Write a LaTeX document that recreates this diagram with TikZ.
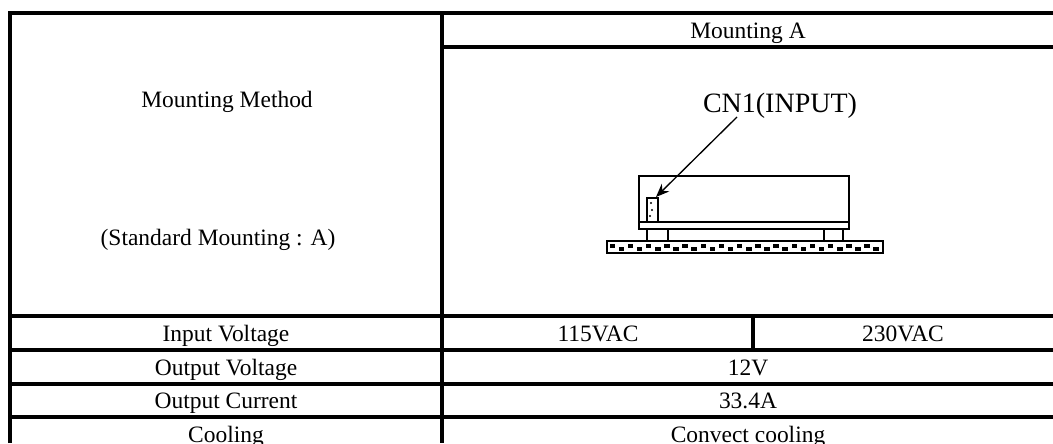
\documentclass[tikz,border=0pt]{standalone}
\usepackage{fontspec}
\setmainfont{Liberation Serif}
\usetikzlibrary{arrows.meta}

\begin{document}
\begin{tikzpicture}[x=0.75pt, y=-0.75pt,
    grid/.style={line width=2.6pt},
    cell/.style={anchor=base, inner sep=0pt, font=\fontsize{17.6}{20}\selectfont},
    part/.style={line width=1.1pt}]
    \clip (0, 0) rectangle (1053, 443);

    % Table frame
    \draw [grid] (10, 443) -- (10, 13) -- (1053, 13);
    \draw [grid] (442, 13) -- (442, 443);
    \draw [grid] (442, 47) -- (1053, 47);
    \foreach \y in {316, 350, 384, 417}
      \draw [grid] (10, \y) -- (1053, \y);
    \draw [grid] (753, 316) -- (753, 350);

    % Header cells
    \node [cell] (mounta) at (748, 38) {Mounting A};
    \node [cell] (method) at (227, 107) {Mounting Method};
    \node [cell] (standard) at (218, 245) {(Standard Mounting : A)};

    % Rows
    \node [cell] (involt) at (226, 341) {Input Voltage};
    \node [cell] (vaclow) at (598, 341) {115VAC};
    \node [cell] (vachigh) at (903, 341) {230VAC};
    \node [cell] (outvolt) at (226, 375) {Output Voltage};
    \node [cell] (twelve) at (748, 375) {12V};
    \node [cell] (outcurr) at (226, 408) {Output Current};
    \node [cell] (amps) at (748, 408) {33.4A};
    \node [cell] (cooling) at (226, 442) {Cooling};
    \node [cell] (convect) at (748, 442) {Convect cooling};

    % Unit body and base
    \draw [part] (639, 176) rectangle (849, 222);
    \draw [part] (639, 222) rectangle (849, 229);
    \draw [part] (647, 229) rectangle (668, 241);
    \draw [part] (824, 229) rectangle (843, 241);

    % Mounting plate
    \draw [line width=2pt] (607, 241) rectangle (883, 253);
    \foreach \i in {0, ..., 29} {
      \pgfmathsetmacro{\xx}{609.5 + 9.1*\i}
      \ifodd\i
        \fill (\xx, 246.5) rectangle ++(5.5, 4);
      \else
        \fill (\xx, 243.5) rectangle ++(5.5, 4);
      \fi
    }

    % Connector CN1
    \draw [part] (647, 222) -- (647, 198) -- (658, 198) -- (658, 222);
    \fill (651, 203) circle [radius=1.2];
    \fill (652, 210) circle [radius=1.2];
    \fill (650, 216) circle [radius=1.2];
    \coordinate (cnone) at (656, 197);

    % Label and arrow
    \node [anchor=base, inner sep=0pt, font=\fontsize{21}{24}\selectfont]
          (inputlabel) at (780, 112) {CN1(INPUT)};
    \coordinate (arrowtail) at (737, 117);
    \draw [line width=1pt, -{Stealth[length=10pt, width=8pt]}] (arrowtail) -- (cnone);
  \end{tikzpicture}
\end{document}
